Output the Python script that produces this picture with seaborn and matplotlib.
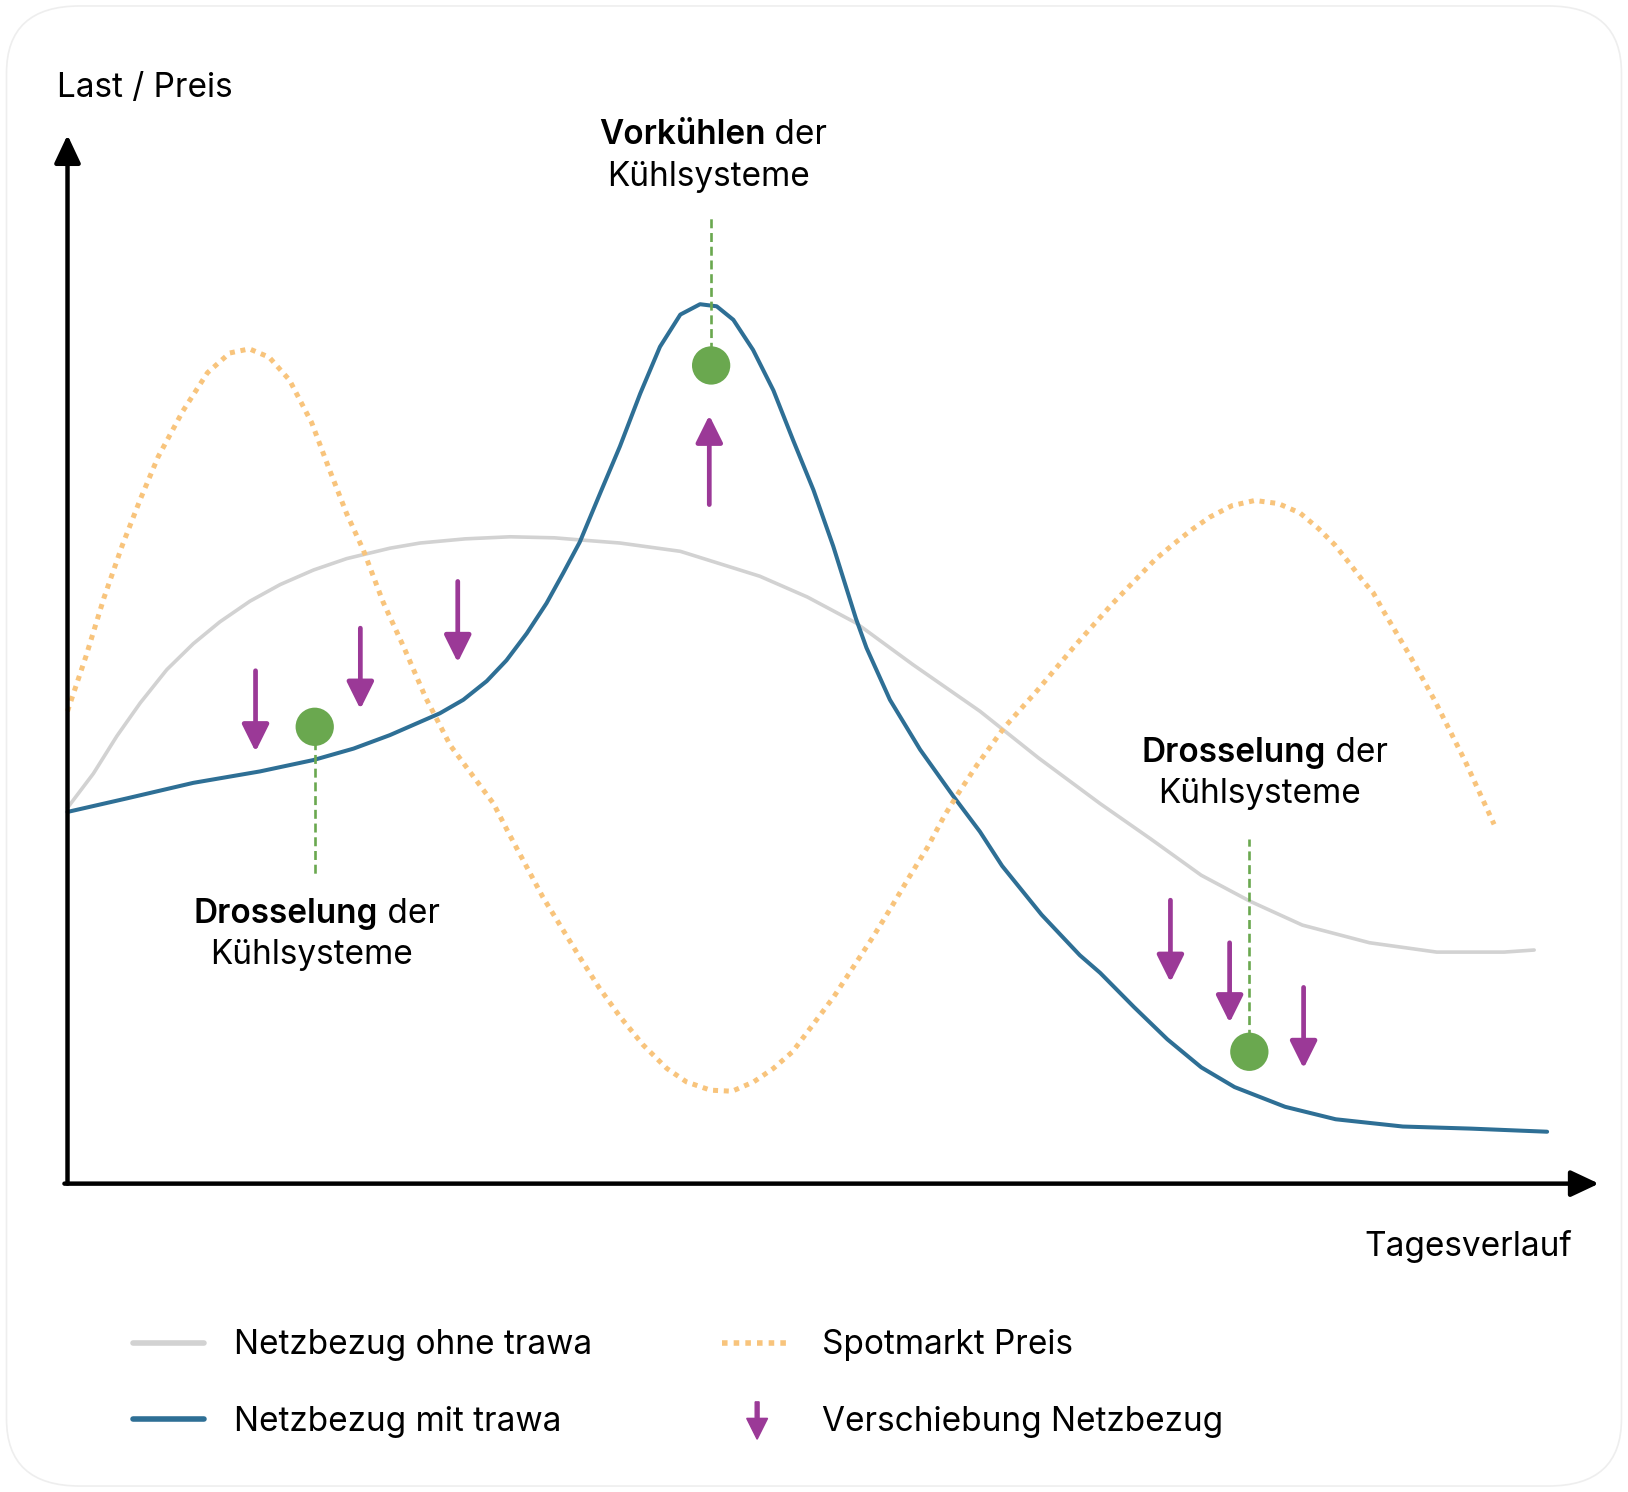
import numpy as np
import matplotlib.pyplot as plt
import seaborn as sns
from matplotlib.lines import Line2D
from matplotlib.patches import FancyArrow, FancyBboxPatch
from matplotlib.legend_handler import HandlerBase

sns.set_theme(style="white")
plt.rcParams['font.family'] = ['Inter', 'DejaVu Sans']
plt.rcParams['text.color'] = 'black'

# Tagesverlauf in Stunden, Last / Preis in relativen Einheiten
ohne_x = [0.0, 0.42, 0.80, 1.18, 1.61, 2.04, 2.47, 2.96, 3.45, 3.99, 4.53, 5.23, 5.72, 6.45,
          7.18, 7.90, 8.31, 8.96, 9.94, 11.23, 12.0, 12.79, 13.71, 14.80, 15.75, 16.75,
          17.57, 18.39, 19.18, 20.03, 21.12, 22.21, 23.30, 23.79]
ohne_y = [36.2, 39.5, 43.1, 46.3, 49.5, 52.0, 54.1, 56.1, 57.7, 59.1, 60.2, 61.2, 61.7, 62.1,
          62.3, 62.2, 62.0, 61.7, 60.9, 58.5, 56.5, 54.0, 50.0, 45.5, 41.0, 36.6,
          33.2, 29.7, 27.2, 24.9, 23.2, 22.3, 22.3, 22.5]

mit_x = [0.0, 0.96, 2.04, 3.12, 3.99, 4.64, 5.23, 6.04, 6.42, 6.80, 7.12, 7.45, 7.77, 8.04,
         8.31, 8.64, 8.96, 9.29, 9.61, 9.94, 10.26, 10.53, 10.80, 11.12, 11.45, 11.77,
         12.10, 12.42, 12.79, 12.96, 13.34, 13.83, 14.37, 14.80, 15.16, 15.80,
         16.42, 16.75, 17.30, 17.84, 18.39, 18.93, 19.75, 20.57, 21.66, 22.76, 23.58, 24.0]
mit_y = [35.8, 37.1, 38.6, 39.7, 40.8, 41.9, 43.2, 45.3, 46.6, 48.4, 50.4, 53.0, 55.9, 58.8,
         61.8, 66.5, 71.0, 76.1, 80.6, 83.7, 84.7, 84.5, 83.2, 80.3, 76.4, 71.6,
         66.8, 61.4, 54.4, 51.6, 46.6, 41.8, 37.3, 33.9, 30.6, 25.9,
         22.0, 20.3, 17.0, 13.9, 11.2, 9.3, 7.4, 6.2, 5.5, 5.3, 5.1, 5.0]

preis_x = [0.0, 0.30, 0.59, 0.89, 1.18, 1.47, 1.87, 2.27, 2.63, 2.95, 3.27, 3.60, 3.96,
           4.24, 4.53, 4.80, 5.12, 5.46, 5.81, 6.21, 6.91, 7.17, 7.44, 7.71, 8.02, 8.32,
           8.62, 8.96, 9.33, 9.72, 10.04, 10.43, 10.78, 11.13, 11.45, 11.76, 12.09, 12.43,
           12.75, 13.07, 13.37, 13.66, 13.95, 14.23, 14.45, 14.75, 15.19, 15.73, 16.34,
           16.94, 17.64, 17.94, 18.24, 18.53, 18.89, 19.26, 19.64, 19.99, 20.29, 20.56,
           20.80, 21.02, 21.18, 21.34, 21.76, 22.18, 22.67, 23.14]
preis_y = [45.5, 50.8, 56.4, 61.5, 65.9, 70.0, 74.4, 78.1, 80.0, 80.4, 79.6, 77.4, 73.3,
           68.9, 64.5, 61.0, 56.0, 51.6, 46.8, 42.2, 36.6, 33.6, 30.6, 27.6, 24.6, 21.7,
           18.9, 16.1, 13.4, 11.1, 9.8, 9.0, 8.9, 9.8, 11.1, 12.7, 15.3, 18.0,
           20.9, 23.8, 26.7, 29.6, 32.4, 35.5, 37.6, 40.3, 43.9, 47.5, 51.8,
           55.8, 60.1, 61.6, 63.0, 64.2, 65.3, 65.8, 65.5, 64.6, 63.1, 61.5,
           59.7, 58.0, 56.9, 55.2, 51.0, 46.5, 40.7, 34.6]

# Verschiebung Netzbezug: x, Start, Ende
shift_x = [3.05, 4.75, 6.33, 10.41, 17.89, 18.85, 20.05]
shift_from = [49.4, 53.5, 58.0, 65.4, 27.3, 23.2, 18.9]
shift_to = [41.6, 45.7, 50.2, 74.0, 19.4, 15.5, 11.1]

# Markierungen der Kühlsystem-Eingriffe
event_x = [4.01, 10.44, 19.17]
event_y = [44.0, 78.8, 12.7]
event_line_end = [29.5, 93.0, 33.2]
event_bold = ["Drosselung", "Vorkühlen", "Drosselung"]
event_label_y = [26.0, 101.0, 41.5]
event_split_x = [5.04, 11.32, 20.41]
event_center_x = [3.96, 10.39, 19.33]

GRAY = "#d2d2d2"
BLUE = "#2e6f95"
ORANGE = "#f8c47c"
PURPLE = "#9b3997"
GREEN = "#6aa84f"

fig = plt.figure(figsize=(16.28, 14.92), dpi=100)
fig.patch.set_facecolor("white")
ax = fig.add_axes([0, 0, 1, 1])
ax.set_xlim(-1.095, 25.312)
ax.set_ylim(-29.70, 114.0)
ax.axis("off")

# dezenter Kartenrahmen
fig.patches.append(FancyBboxPatch((0.004, 0.004), 0.992, 0.992, boxstyle="round,pad=0,rounding_size=0.045",
                                  transform=fig.transFigure, fc="none", ec="#eeeeee", lw=1.2))

# Achsen mit Pfeilen
axis_style = dict(arrowstyle="-|>,head_length=1.7,head_width=0.8", mutation_scale=10,
                  lw=3.2, color="black", shrinkA=0, shrinkB=0)
ax.annotate("", xy=(0.0, 101.0), xytext=(0.0, 0.0), arrowprops=axis_style)
ax.annotate("", xy=(24.84, 0.0), xytext=(-0.05, 0.0), arrowprops=axis_style)

sns.lineplot(x=ohne_x, y=ohne_y, ax=ax, color=GRAY, lw=2.6, sort=False, estimator=None)
sns.lineplot(x=mit_x, y=mit_y, ax=ax, color=BLUE, lw=2.9, sort=False, estimator=None)
sns.lineplot(x=preis_x, y=preis_y, ax=ax, color=ORANGE, lw=3.6, sort=False, estimator=None,
             linestyle=(0, (1, 1.15)), dash_capstyle="butt")

for x0, y0, y1 in zip(shift_x, shift_from, shift_to):
    ax.annotate("", xy=(x0, y1), xytext=(x0, y0),
                arrowprops=dict(arrowstyle="-|>,head_length=1.65,head_width=0.82", mutation_scale=10,
                                lw=3.4, color=PURPLE, shrinkA=0, shrinkB=0))

for x0, y0, y1 in zip(event_x, event_y, event_line_end):
    ax.plot([x0, x0], [y0, y1], color=GREEN, lw=1.9, dashes=(3.4, 1.8), zorder=3)
sns.scatterplot(x=event_x, y=event_y, ax=ax, s=760, color=GREEN, edgecolor="none", zorder=5)

fs = 24
for bold, sx, ly in zip(event_bold, event_split_x, event_label_y):
    ax.text(sx, ly, bold, ha="right", va="center", fontsize=fs, fontweight="semibold")
    ax.text(sx, ly, " der", ha="left", va="center", fontsize=fs)
for cx, ly in zip(event_center_x, event_label_y):
    ax.text(cx, ly - 4.0, "Kühlsysteme", ha="center", va="center", fontsize=fs)

ax.text(-0.17, 105.5, "Last / Preis", ha="left", va="center", fontsize=fs)
ax.text(24.40, -6.1, "Tagesverlauf", ha="right", va="center", fontsize=fs)


class ArrowHandler(HandlerBase):
    def create_artists(self, legend, orig_handle, xdescent, ydescent, width, height, fontsize, trans):
        cx = width / 2 - xdescent
        arr = FancyArrow(cx, height * 1.25, 0, -height * 1.6, width=2.8, head_width=15,
                         head_length=15, length_includes_head=True, color=PURPLE, transform=trans)
        return [arr]


handles = [
    Line2D([], [], color=GRAY, lw=4),
    Line2D([], [], color=BLUE, lw=4),
    Line2D([], [], color=ORANGE, lw=4, linestyle=(0, (1, 1.1)), dash_capstyle="butt"),
    "arrow",
]
labels = ["Netzbezug ohne trawa", "Netzbezug mit trawa", "Spotmarkt Preis", "Verschiebung Netzbezug"]
fig.legend(handles, labels, loc="upper left", bbox_to_anchor=(0.0817, 0.109), ncol=2, frameon=False,
           fontsize=fs, handlelength=2.12, handletextpad=0.9, columnspacing=3.9, labelspacing=1.34,
           borderpad=0, borderaxespad=0, handler_map={str: ArrowHandler()})

fig.savefig("out.png", dpi=100, facecolor="white")
